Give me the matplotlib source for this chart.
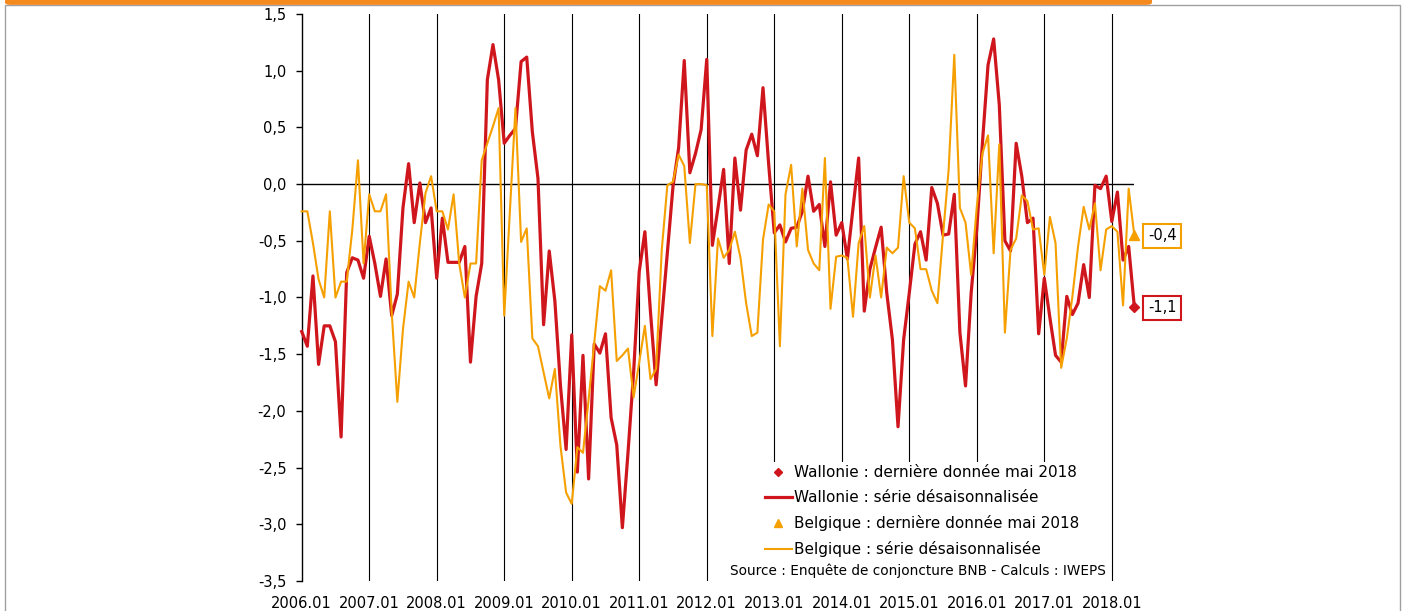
import numpy as np
import matplotlib
matplotlib.use('Agg')
import matplotlib.pyplot as plt
from matplotlib.patches import Rectangle, FancyBboxPatch
from matplotlib.lines import Line2D

# Données mensuelles 2006.01 -> 2018.05
wallonie = [
    -1.30, -1.43, -0.81, -1.59, -1.25, -1.25, -1.39, -2.23, -0.78, -0.65, -0.67, -0.83,
    -0.46, -0.70, -0.99, -0.66, -1.16, -0.97, -0.21, 0.18, -0.34, 0.01, -0.34, -0.21,
    -0.83, -0.30, -0.69, -0.69, -0.69, -0.55, -1.57, -0.99, -0.70, 0.92, 1.23, 0.92,
    0.36, 0.43, 0.49, 1.08, 1.12, 0.46, 0.05, -1.24, -0.59, -1.03, -1.78, -2.34,
    -1.33, -2.54, -1.51, -2.60, -1.41, -1.49, -1.32, -2.06, -2.30, -3.03, -2.37, -1.66,
    -0.77, -0.42, -1.13, -1.77, -1.19, -0.61, -0.02, 0.32, 1.09, 0.10, 0.27, 0.48,
    1.10, -0.54, -0.21, 0.13, -0.70, 0.23, -0.23, 0.30, 0.44, 0.25, 0.85, 0.18,
    -0.43, -0.36, -0.51, -0.39, -0.38, -0.24, 0.07, -0.24, -0.18, -0.55, 0.02, -0.45,
    -0.34, -0.66, -0.21, 0.23, -1.12, -0.75, -0.56, -0.38, -0.96, -1.37, -2.14, -1.37,
    -0.96, -0.53, -0.42, -0.67, -0.03, -0.17, -0.45, -0.44, -0.09, -1.31, -1.78, -0.96,
    -0.40, 0.36, 1.05, 1.28, 0.70, -0.50, -0.59, 0.36, 0.07, -0.34, -0.30, -1.32,
    -0.83, -1.18, -1.51, -1.57, -0.99, -1.15, -1.05, -0.71, -1.00, -0.01, -0.04, 0.07,
    -0.33, -0.07, -0.67, -0.55, -1.08,
]
belgique = [
    -0.24, -0.24, -0.52, -0.84, -1.00, -0.24, -1.00, -0.86, -0.86, -0.40, 0.21, -0.70,
    -0.09, -0.24, -0.24, -0.09, -1.13, -1.92, -1.28, -0.86, -1.00, -0.52, -0.08, 0.07,
    -0.24, -0.24, -0.40, -0.09, -0.70, -1.00, -0.70, -0.70, 0.21, 0.36, 0.51, 0.67,
    -1.16, -0.24, 0.67, -0.51, -0.39, -1.36, -1.43, -1.66, -1.89, -1.63, -2.31, -2.72,
    -2.82, -2.32, -2.37, -1.90, -1.40, -0.90, -0.94, -0.76, -1.56, -1.51, -1.45, -1.88,
    -1.57, -1.25, -1.72, -1.63, -0.58, -0.01, 0.02, 0.26, 0.16, -0.52, 0.00, 0.00,
    -0.01, -1.34, -0.48, -0.65, -0.58, -0.42, -0.65, -1.05, -1.34, -1.31, -0.49, -0.18,
    -0.24, -1.43, -0.09, 0.17, -0.55, -0.04, -0.58, -0.70, -0.76, 0.23, -1.10, -0.64,
    -0.63, -0.65, -1.17, -0.52, -0.37, -1.00, -0.63, -1.00, -0.56, -0.61, -0.56, 0.07,
    -0.34, -0.39, -0.75, -0.75, -0.94, -1.05, -0.45, 0.13, 1.14, -0.21, -0.34, -0.80,
    -0.20, 0.27, 0.43, -0.61, 0.35, -1.31, -0.58, -0.48, -0.10, -0.15, -0.40, -0.39,
    -0.80, -0.29, -0.52, -1.62, -1.36, -0.99, -0.55, -0.20, -0.40, -0.17, -0.76, -0.40,
    -0.37, -0.42, -1.07, -0.04, -0.45,
]
annees = [f"{a}.01" for a in range(2006, 2019)]
derniere_wal = "-1,1"
derniere_bel = "-0,4"

ROUGE = '#D0161D'
ORANGE = '#F5A000'

mois = np.arange(len(wallonie))

fig = plt.figure(figsize=(14.05, 6.11), dpi=100)
plt.rcParams['font.family'] = ['DejaVu Sans']

# cadre + bandeau orange
fig.patches.append(Rectangle((5 / 1405, -0.01), 1395 / 1405, 1 - 5 / 611 + 0.01,
                             transform=fig.transFigure, fill=False,
                             edgecolor='#A0A0A0', lw=1.0))
fig.patches.append(FancyBboxPatch((5 / 1405, 0.992), 1147 / 1405, 0.02,
                                  boxstyle='round,pad=0,rounding_size=0.004',
                                  transform=fig.transFigure, facecolor='#F58A1F',
                                  edgecolor='none'))

ax = fig.add_axes([301.7 / 1405, 1 - 581 / 611, (1134.3 - 301.7) / 1405, (581 - 14) / 611])

ax.plot(mois, wallonie, color=ROUGE, lw=2.3, zorder=3, clip_on=False)
ax.plot(mois, belgique, color=ORANGE, lw=1.5, zorder=4, clip_on=False)
ax.plot(mois[-1], wallonie[-1], marker='D', color=ROUGE, ms=5, zorder=5, clip_on=False)
ax.plot(mois[-1], belgique[-1], marker='^', color=ORANGE, ms=7, zorder=5, clip_on=False)

ax.axhline(0, color='black', lw=1.0, zorder=2)

ax.set_xlim(0, len(wallonie) - 1)
ax.set_ylim(-3.5, 1.5)

pos_annees = np.arange(len(annees)) * 12
ax.set_xticks(pos_annees)
ax.set_xticklabels(annees)
for p in pos_annees[1:]:
    ax.axvline(p, color='black', lw=0.8, zorder=1)

# fond blanc de la zone légende (masque les traits verticaux)
ax.add_patch(Rectangle((725 / 1405, 1 - 581 / 611), (1109 - 725) / 1405, (581 - 462) / 611,
                       transform=fig.transFigure, facecolor='white', edgecolor='none',
                       zorder=1.5))

yt = np.arange(-3.5, 1.51, 0.5)
ax.set_yticks(yt)
ax.set_yticklabels([f"{v:.1f}".replace('.', ',') for v in yt])

for s in ['top', 'right', 'bottom']:
    ax.spines[s].set_visible(False)
ax.spines['left'].set_linewidth(1.0)
ax.tick_params(axis='x', length=0, pad=11, labelsize=10.5)
ax.tick_params(axis='y', length=4, width=1, pad=7, labelsize=10.5)

# étiquettes des dernières valeurs
ax.annotate(derniere_bel, xy=(mois[-1], belgique[-1]), xytext=(20, -0.5),
            textcoords='offset points', ha='center', va='center', fontsize=10.5,
            bbox=dict(boxstyle='square,pad=0.3', fc='white', ec=ORANGE, lw=1.5),
            annotation_clip=False)
ax.annotate(derniere_wal, xy=(mois[-1], wallonie[-1]), xytext=(20, -1),
            textcoords='offset points', ha='center', va='center', fontsize=10.5,
            bbox=dict(boxstyle='square,pad=0.3', fc='white', ec=ROUGE, lw=1.5),
            annotation_clip=False)

handles = [
    Line2D([], [], ls='none', marker='D', color=ROUGE, ms=4.5),
    Line2D([], [], color=ROUGE, lw=2.3),
    Line2D([], [], ls='none', marker='^', color=ORANGE, ms=6),
    Line2D([], [], color=ORANGE, lw=1.5),
]
labels = [
    "Wallonie : dernière donnée mai 2018",
    "Wallonie : série désaisonnalisée",
    "Belgique : dernière donnée mai 2018",
    "Belgique : série désaisonnalisée",
]
fig.legend(handles, labels, loc='upper left', bbox_to_anchor=(765 / 1405, 1 - 465 / 611),
           frameon=False, fontsize=11, handlelength=1.75, handletextpad=0.15,
           labelspacing=0.66, borderaxespad=0, borderpad=0)

fig.text(918 / 1405, 1 - 571 / 611,
         "Source : Enquête de conjoncture BNB - Calculs : IWEPS",
         ha='center', va='center', fontsize=9.8)

fig.savefig('out.png', dpi=100)
